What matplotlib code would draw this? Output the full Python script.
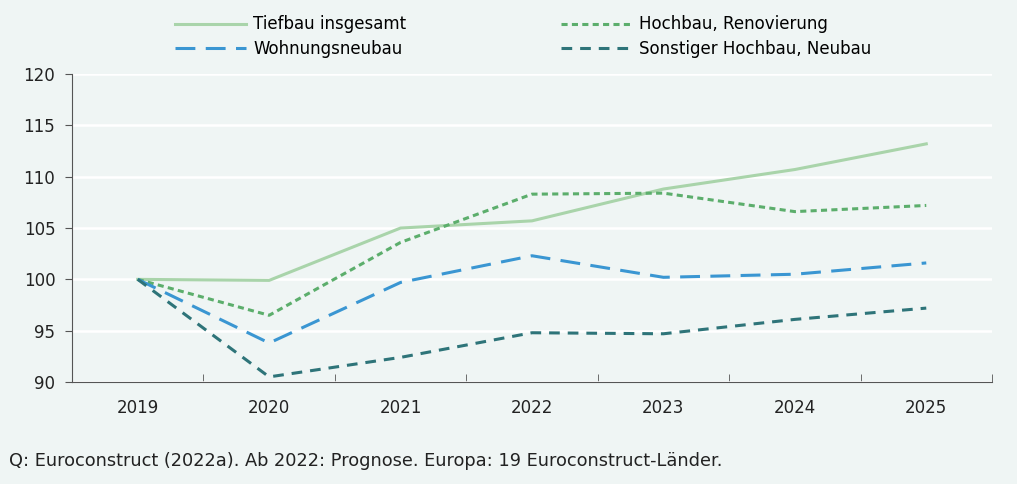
import numpy as np
import matplotlib
matplotlib.use("Agg")
import matplotlib.pyplot as plt

years = ["2019", "2020", "2021", "2022", "2023", "2024", "2025"]
tiefbau = [100.0, 99.9, 105.0, 105.7, 108.8, 110.7, 113.2]
hochbau_renov = [100.0, 96.5, 103.6, 108.3, 108.4, 106.6, 107.2]
wohnungsneubau = [100.0, 93.8, 99.7, 102.3, 100.2, 100.5, 101.6]
sonstiger = [100.0, 90.5, 92.4, 94.8, 94.7, 96.1, 97.2]

bg = "#eff5f4"
plt.rcParams['font.family'] = ['DejaVu Sans']

fig = plt.figure(figsize=(10.17, 4.84), dpi=100, facecolor=bg)
ax = fig.add_axes([0.0708, 0.2107, 0.9046, 0.6363], facecolor=bg)

x = np.arange(len(years))
l1, = ax.plot(x, tiefbau, color="#a9d4aa", lw=2.2, label="Tiefbau insgesamt")
l2, = ax.plot(x, hochbau_renov, color="#5cae6c", lw=2.2, dashes=(2.0, 1.4), label="Hochbau, Renovierung")
l3, = ax.plot(x, wohnungsneubau, color="#3a96d2", lw=2.2, dashes=(6.5, 3.4), label="Wohnungsneubau")
l4, = ax.plot(x, sonstiger, color="#2e7479", lw=2.2, dashes=(3.5, 2.6), label="Sonstiger Hochbau, Neubau")

ax.set_xlim(-0.5, 6.5)
ax.set_ylim(90, 120)
ax.set_yticks(range(90, 121, 5))
ax.set_xticks(x)
ax.set_xticklabels(years)
ax.set_xticks(np.arange(-0.5, 7, 1), minor=True)
ax.tick_params(axis="x", which="major", length=0, pad=12, labelsize=12, labelcolor="#222222")
ax.tick_params(axis="x", which="minor", length=6, color="#555555", direction="in")
ax.tick_params(axis="y", length=5, color="#555555", labelsize=12, labelcolor="#222222", pad=7)

ax.grid(axis="y", color="white", lw=1.8)
ax.set_axisbelow(True)
for s in ["top", "right"]:
    ax.spines[s].set_visible(False)
ax.spines["left"].set_color("#555555")
ax.spines["bottom"].set_color("#555555")

fig.legend([l1, l3, l2, l4], [l1.get_label(), l3.get_label(), l2.get_label(), l4.get_label()],
           loc="upper left", bbox_to_anchor=(0.157, 0.999), ncol=2, frameon=False,
           fontsize=12, handlelength=4.3, handletextpad=0.4, columnspacing=9.3,
           labelspacing=0.4)

fig.text(0.009, 0.037, "Q: Euroconstruct (2022a). Ab 2022: Prognose. Europa: 19 Euroconstruct-Länder.",
         fontsize=12.8, color="#222222")

plt.savefig("out.png", dpi=100, facecolor=bg)
